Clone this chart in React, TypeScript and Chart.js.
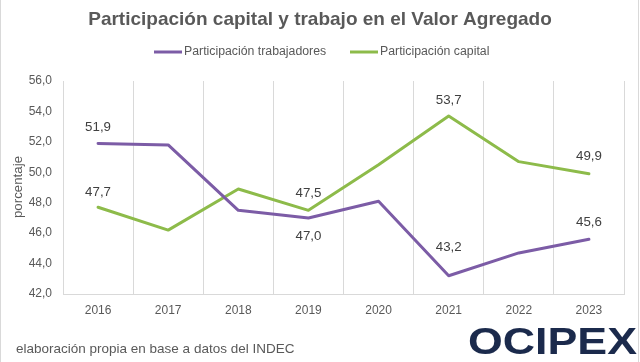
import { useEffect, useRef } from "react";
import { Chart, registerables } from "chart.js";

Chart.register(...registerables);

const years = ["2016", "2017", "2018", "2019", "2020", "2021", "2022", "2023"];
const trabajadores = [51.9, 51.8, 47.5, 47.0, 48.1, 43.2, 44.7, 45.6];
const capital = [47.7, 46.2, 48.9, 47.5, 50.5, 53.7, 50.7, 49.9];
const labeledIndices = [0, 3, 5, 7];
const yMin = 42;
const yMax = 56;
const yStep = 2;

const TITLE = "Participación capital y trabajo en el Valor Agregado";
const SERIES_TRAB = "Participación trabajadores";
const SERIES_CAP = "Participación capital";
const Y_TITLE = "porcentaje";
const FOOTER = "elaboración propia en base a datos del INDEC";
const LOGO = "OCIPEX";

const PURPLE = "#7c5ca6";
const GREEN = "#8dbb4a";
const FONT = "'Liberation Sans', Arial, sans-serif";

// label vertical offsets (px) relative to point, per dataset
const labelOffsets: Record<number, number[]> = {
  0: [-16, 0, 0, 18, 0, -28, 0, -17],
  1: [-15, 0, 0, -17, 0, -16, 0, -17],
};

const fmt = (v: number) => v.toFixed(1).replace(".", ",");

const decorPlugin = {
  id: "decor",
  afterDraw(chart: any) {
    const ctx = chart.ctx as CanvasRenderingContext2D;
    ctx.save();
    // frame lines
    ctx.strokeStyle = "#d9d9d9";
    ctx.lineWidth = 1;
    ctx.beginPath();
    ctx.moveTo(0.5, 0);
    ctx.lineTo(0.5, 362);
    ctx.moveTo(638.5, 0);
    ctx.lineTo(638.5, 362);
    ctx.stroke();

    // title
    ctx.fillStyle = "#595959";
    ctx.font = `bold 19px ${FONT}`;
    ctx.textAlign = "center";
    ctx.textBaseline = "middle";
    ctx.fillText(TITLE, 320, 20);

    // legend
    ctx.font = `12.3px ${FONT}`;
    ctx.textAlign = "left";
    ctx.lineWidth = 3;
    ctx.strokeStyle = PURPLE;
    ctx.beginPath();
    ctx.moveTo(154, 52);
    ctx.lineTo(182, 52);
    ctx.stroke();
    ctx.fillText(SERIES_TRAB, 184, 52);
    ctx.strokeStyle = GREEN;
    ctx.beginPath();
    ctx.moveTo(350, 52);
    ctx.lineTo(378, 52);
    ctx.stroke();
    ctx.fillText(SERIES_CAP, 380, 52);

    // y axis title
    ctx.save();
    ctx.translate(18, 187);
    ctx.rotate(-Math.PI / 2);
    ctx.textAlign = "center";
    ctx.font = `13.3px ${FONT}`;
    ctx.fillText(Y_TITLE, 0, 0);
    ctx.restore();

    // footer
    ctx.font = `13.5px ${FONT}`;
    ctx.textAlign = "left";
    ctx.fillText(FOOTER, 16, 349);

    // logo
    ctx.save();
    ctx.font = `bold 36px ${FONT}`;
    ctx.fillStyle = "#1b2a4c";
    ctx.textBaseline = "alphabetic";
    const w = ctx.measureText(LOGO).width;
    ctx.translate(468, 354);
    ctx.scale(169 / w, 1);
    ctx.fillText(LOGO, 0, 0);
    ctx.restore();
    ctx.restore();
  },
  afterDatasetsDraw(chart: any) {
    const ctx = chart.ctx as CanvasRenderingContext2D;
    ctx.save();
    ctx.font = `13.3px ${FONT}`;
    ctx.fillStyle = "#404040";
    ctx.textAlign = "center";
    ctx.textBaseline = "middle";
    chart.data.datasets.forEach((ds: any, di: number) => {
      const meta = chart.getDatasetMeta(di);
      labeledIndices.forEach((i) => {
        const el = meta.data[i];
        if (!el) return;
        ctx.fillText(fmt(ds.data[i]), el.x, el.y + labelOffsets[di][i]);
      });
    });
    ctx.restore();
  },
};

export default function App() {
  const ref = useRef<HTMLCanvasElement | null>(null);
  useEffect(() => {
    if (!ref.current) return;
    const chart = new Chart(ref.current, {
      type: "line",
      data: {
        labels: years,
        datasets: [
          {
            label: SERIES_TRAB,
            data: trabajadores,
            borderColor: PURPLE,
            backgroundColor: PURPLE,
            borderWidth: 3,
            pointRadius: 0,
            tension: 0,
            borderJoinStyle: "round",
            borderCapStyle: "round",
          },
          {
            label: SERIES_CAP,
            data: capital,
            borderColor: GREEN,
            backgroundColor: GREEN,
            borderWidth: 3,
            pointRadius: 0,
            tension: 0,
            borderJoinStyle: "round",
            borderCapStyle: "round",
          },
        ],
      },
      options: {
        responsive: false,
        animation: false,
        layout: { padding: { left: 0, right: 16, top: 81, bottom: 38 } },
        plugins: {
          legend: { display: false },
          title: { display: false },
          tooltip: { enabled: false },
        },
        scales: {
          x: {
            offset: true,
            grid: { offset: true, color: "#d9d9d9", drawTicks: false, lineWidth: 1 },
            border: { display: true, color: "#d9d9d9" },
            ticks: { color: "#595959", font: { family: FONT, size: 12 }, padding: 9, maxRotation: 0 },
            afterFit: (s: any) => {
              s.height = 30;
            },
          },
          y: {
            min: yMin,
            max: yMax,
            grid: { display: false, drawTicks: false },
            border: { display: false },
            ticks: {
              stepSize: yStep,
              color: "#595959",
              font: { family: FONT, size: 12 },
              padding: 11,
              callback: (v: any) => fmt(Number(v)),
            },
            afterFit: (s: any) => {
              s.width = 63;
            },
          },
        },
      },
      plugins: [decorPlugin],
    });
    return () => chart.destroy();
  }, []);
  return (
    <div style={{ position: "absolute", left: 0, top: 0, width: 640, height: 362, background: "#fff" }}>
      <canvas ref={ref} width={640} height={362} />
    </div>
  );
}
